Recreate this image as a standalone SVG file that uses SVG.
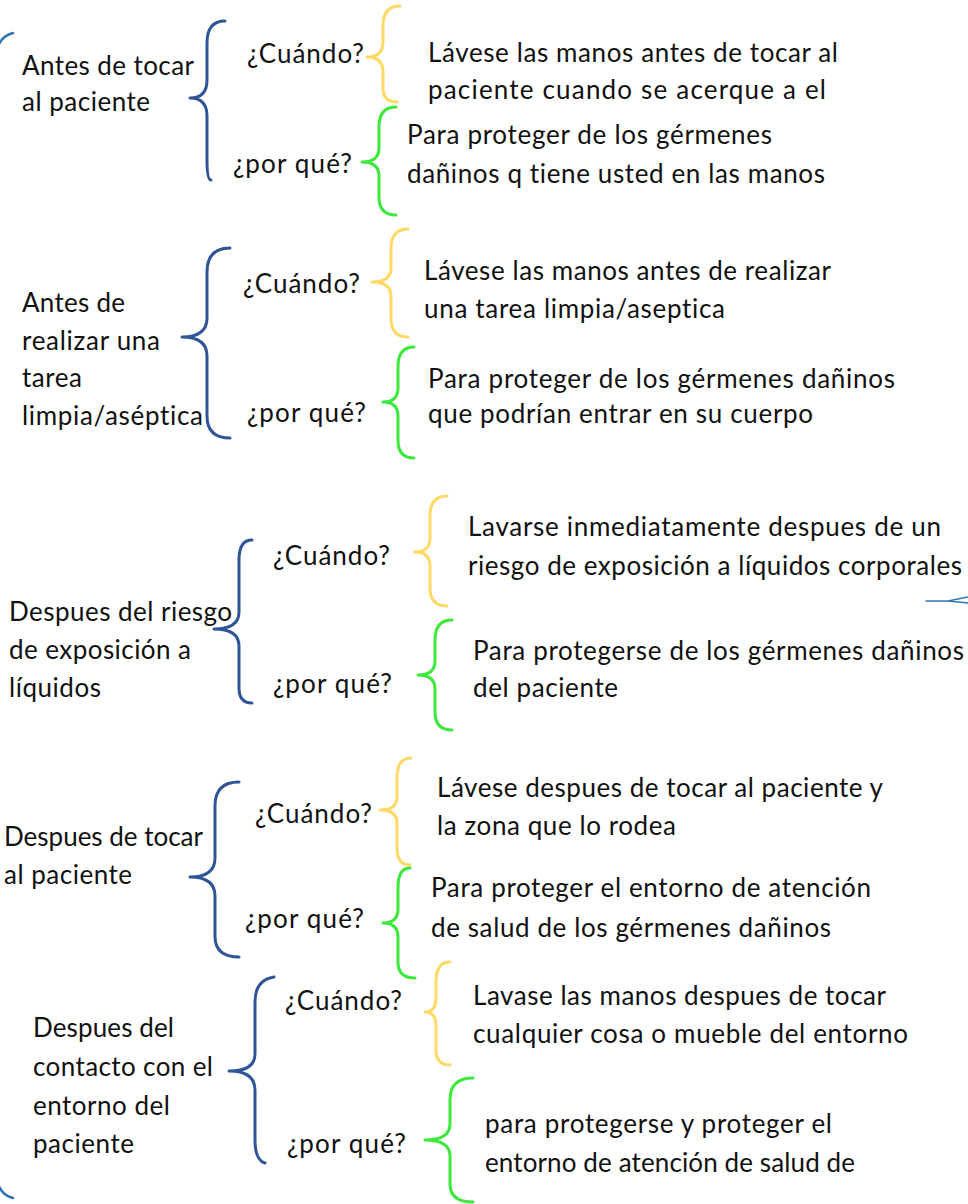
<svg xmlns="http://www.w3.org/2000/svg" width="968" height="1204" viewBox="0 0 968 1204">
<style>
text{font-family:Lato,"Open Sans","Liberation Sans",sans-serif;font-size:26px;fill:#111;font-variant-ligatures:none;}
.b{fill:none;stroke-width:3;stroke-linecap:round;stroke-linejoin:round;}
.blue{stroke:#2F5597;}
.lb{stroke:#2E75B6;stroke-width:2.5;}
.yel{stroke:#FFD966;}
.grn{stroke:#3DE83D;}
</style>
<defs><clipPath id="c1"><rect x="400" y="290" width="400" height="33"/></clipPath></defs>
<rect width="968" height="1204" fill="#fff"/>
<g id="edges">
<path class="b lb" d="M13,33 Q0,36 -4,52"/>
<path class="b lb" d="M-4,1178 Q0,1195 13,1198"/>
<path class="b lb" style="stroke-width:1.5" d="M926,601 L948,601 L968,597 M948,601 L968,603"/>
</g>
<g id="n1">
<text x="22" y="75" textLength="172">Antes de tocar</text>
<text x="22" y="111" textLength="128">al paciente</text>
<path class="b blue" d="M225,21 Q207,21 207,43 L207,80 Q207,98 190,98 Q207,98 207,116 L207,160 Q207,180 211,180"/>
<text x="247" y="63" textLength="117">¿Cuándo?</text>
<text x="233" y="173" textLength="119">¿por qué?</text>
<path class="b yel" d="M400,6 Q383,6 383,26 L383,42 Q383,57 367,57 Q383,57 383,72 L383,88 Q383,102 397,102"/>
<path class="b grn" d="M396,107 Q379,107 379,127 L379,148 Q379,162 362,162 Q379,162 379,176 L379,197 Q379,215 396,215"/>
<text x="428" y="62" textLength="410">Lávese las manos antes de tocar al</text>
<text x="428" y="99" textLength="398">paciente cuando se acerque a el</text>
<text x="407" y="144" textLength="365">Para proteger de los gérmenes</text>
<text x="407" y="183" textLength="418">dañinos q tiene usted en las manos</text>
</g>
<g id="n2">
<text x="22" y="312" textLength="103">Antes de</text>
<text x="22" y="350" textLength="138">realizar una</text>
<text x="22" y="387" textLength="60">tarea</text>
<text x="22" y="425" textLength="181">limpia/aséptica</text>
<path class="b blue" d="M230,248 Q207,248 207,272 L207,318 Q207,337 182,337 Q207,337 207,356 L207,416 Q207,438 230,438"/>
<text x="243" y="293" textLength="117">¿Cuándo?</text>
<text x="247" y="422" textLength="119">¿por qué?</text>
<path class="b yel" d="M408,229 Q391,229 391,249 L391,268 Q391,282 372,282 Q391,282 391,296 L391,318 Q391,337 408,337"/>
<path class="b grn" d="M414,347 Q398,347 398,367 L398,388 Q398,402 383,402 Q398,402 398,416 L398,440 Q398,458 414,458"/>
<text x="424" y="280" textLength="407">Lávese las manos antes de realizar</text>
<text x="424" y="318" textLength="301" clip-path="url(#c1)">una tarea limpia/aseptica</text>
<text x="428" y="388" textLength="467">Para proteger de los gérmenes dañinos</text>
<text x="428" y="423" textLength="385">que podrían entrar en su cuerpo</text>
</g>
<g id="n3">
<text x="9" y="621" textLength="223">Despues del riesgo</text>
<text x="9" y="659" textLength="182">de exposición a</text>
<text x="9" y="697" textLength="92">líquidos</text>
<path class="b blue" d="M252,540 Q239,540 239,560 L239,612 Q239,629 214,629 Q239,629 239,646 L239,688 Q239,703 252,703"/>
<text x="273" y="565" textLength="117">¿Cuándo?</text>
<text x="273" y="693" textLength="119">¿por qué?</text>
<path class="b yel" d="M447,496 Q430,496 430,516 L430,538 Q430,552 415,552 Q430,552 430,566 L430,588 Q430,606 447,606"/>
<path class="b grn" d="M452,620 Q435,620 435,640 L435,661 Q435,675 418,675 Q435,675 435,689 L435,712 Q435,730 452,730"/>
<text x="468" y="536" textLength="473">Lavarse inmediatamente despues de un</text>
<text x="468" y="575" textLength="494">riesgo de exposición a líquidos corporales</text>
<text x="473" y="660" textLength="491">Para protegerse de los gérmenes dañinos</text>
<text x="473" y="697" textLength="145">del paciente</text>
</g>
<g id="n4">
<text x="4" y="846" textLength="199">Despues de tocar</text>
<text x="4" y="884" textLength="128">al paciente</text>
<path class="b blue" d="M239,782 Q215,782 215,806 L215,858 Q215,877 190,877 Q215,877 215,896 L215,936 Q215,957 239,957"/>
<text x="255" y="823" textLength="117">¿Cuándo?</text>
<text x="245" y="928" textLength="119">¿por qué?</text>
<path class="b yel" d="M411,758 Q397,758 397,778 L397,797 Q397,810 380,810 Q397,810 397,823 L397,848 Q397,865 410,865"/>
<path class="b grn" d="M410,868 Q398,868 398,888 L398,909 Q398,923 383,923 Q398,923 398,937 L398,962 Q398,978 415,978"/>
<text x="437" y="797" textLength="446">Lávese despues de tocar al paciente y</text>
<text x="437" y="835" textLength="239">la zona que lo rodea</text>
<text x="431" y="897" textLength="440">Para proteger el entorno de atención</text>
<text x="431" y="937" textLength="400">de salud de los gérmenes dañinos</text>
</g>
<g id="n5">
<text x="33" y="1037" textLength="141">Despues del</text>
<text x="33" y="1076" textLength="180">contacto con el</text>
<text x="33" y="1115" textLength="137">entorno del</text>
<text x="33" y="1153" textLength="101">paciente</text>
<path class="b blue" d="M274,977 Q255,980 255,1002 L255,1054 Q255,1071 229,1071 Q255,1071 255,1090 L255,1140 Q255,1160 265,1163"/>
<text x="285" y="1010" textLength="117">¿Cuándo?</text>
<text x="287" y="1153" textLength="119">¿por qué?</text>
<path class="b yel" d="M450,962 Q436,962 436,982 L436,998 Q436,1012 425,1012 Q436,1012 436,1026 L436,1050 Q436,1065 450,1065"/>
<path class="b grn" d="M473,1078 Q450,1078 450,1100 L450,1124 Q450,1140 425,1140 Q450,1140 450,1156 L450,1184 Q450,1202 473,1202"/>
<text x="473" y="1005" textLength="413">Lavase las manos despues de tocar</text>
<text x="473" y="1043" textLength="435">cualquier cosa o mueble del entorno</text>
<text x="485" y="1133" textLength="347">para protegerse y proteger el</text>
<text x="485" y="1172" textLength="370">entorno de atención de salud de</text>
</g>
</svg>
